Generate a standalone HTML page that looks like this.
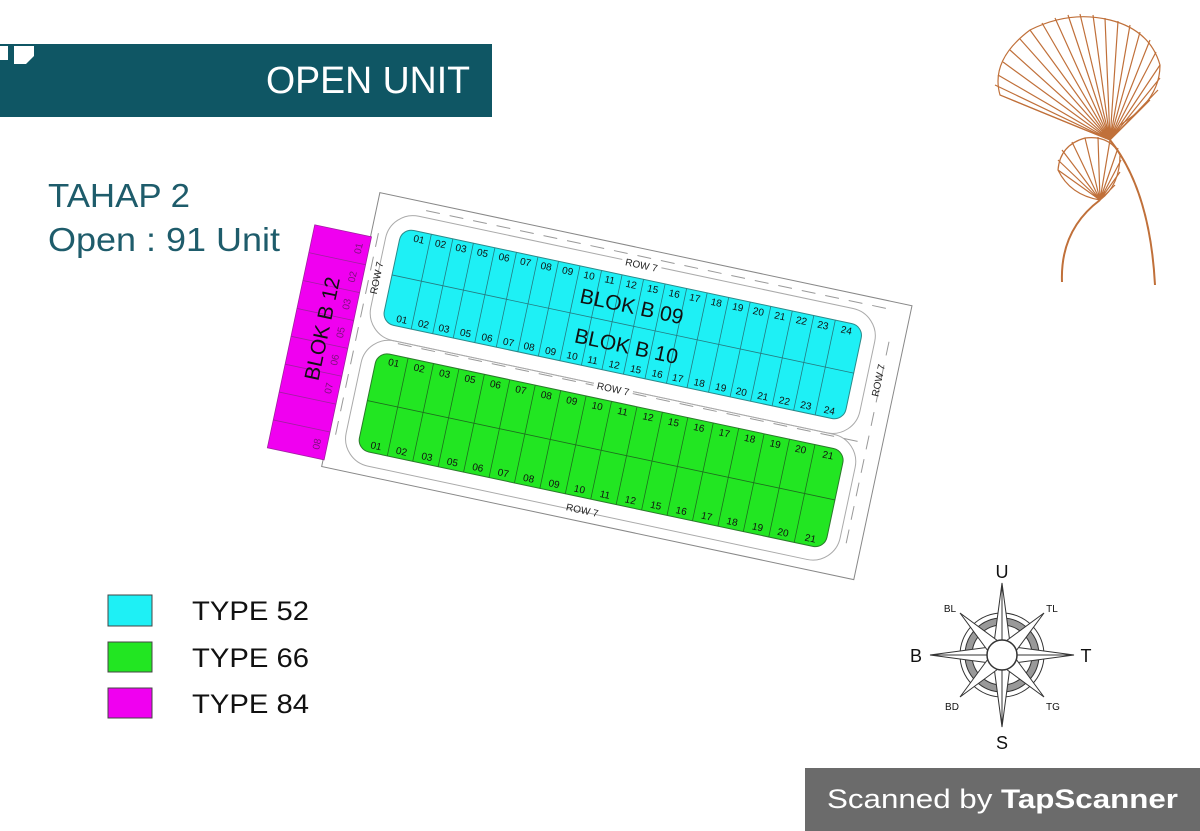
<!DOCTYPE html>
<html><head><meta charset="utf-8"><style>
html,body{margin:0;padding:0;background:#fff}
body{width:1200px;height:831px;overflow:hidden;position:relative;font-family:"Liberation Sans",sans-serif}
</style></head><body>
<svg width="1200" height="831" viewBox="0 0 1200 831" xmlns="http://www.w3.org/2000/svg" style="position:absolute;left:0;top:0" font-family="Liberation Sans, sans-serif">
<!-- header -->
<rect x="0" y="44" width="492" height="73" fill="#0f5664"/>
<path d="M0 46 h8 v14 h-8z M14 46 h20 v10 l-8 8 h-12z" fill="#fff"/>
<text x="266" y="93" font-size="38" fill="#fff" textLength="204" lengthAdjust="spacingAndGlyphs">OPEN UNIT</text>
<text x="48" y="207" font-size="33" fill="#1e5c6b" textLength="142" lengthAdjust="spacingAndGlyphs">TAHAP 2</text>
<text x="48" y="251" font-size="33" fill="#1e5c6b" textLength="232" lengthAdjust="spacingAndGlyphs">Open : 91 Unit</text>

<!-- ginkgo -->
<g stroke="#c0703a" fill="none" stroke-width="1.2">
<path d="M1110 140 Q1060 120 1000 95 Q990 60 1030 30 Q1070 10 1110 20 Q1150 30 1160 65 Q1160 100 1120 125 Z"/>
<path d="M1110 140 L1000 95 M1110 140 L995 85 M1110 140 L998 75 M1110 140 L1003 62 M1110 140 L1010 50 M1110 140 L1020 39 M1110 140 L1030 30 M1110 140 L1042 23 M1110 140 L1055 18 M1110 140 L1068 15 M1110 140 L1080 14 M1110 140 L1093 15 M1110 140 L1105 18 M1110 140 L1118 21 M1110 140 L1130 25 M1110 140 L1140 32 M1110 140 L1150 40 M1110 140 L1156 52 M1110 140 L1160 65 M1110 140 L1160 78 M1110 140 L1158 90 M1110 140 L1150 100 M1110 140 L1140 110"/>
<path d="M1100 200 Q1070 195 1058 170 Q1060 145 1085 138 Q1110 135 1120 155 Q1120 185 1100 200Z"/>
<path d="M1100 200 L1058 170 M1100 200 L1058 160 M1100 200 L1062 150 M1100 200 L1072 142 M1100 200 L1085 138 M1100 200 L1098 137 M1100 200 L1110 140 M1100 200 L1118 148 M1100 200 L1121 160 M1100 200 L1120 172 M1100 200 L1115 185"/>
<path d="M1110 140 Q1150 190 1155 285 M1100 200 Q1060 230 1062 282" stroke-width="2"/>
</g>

<!-- site plan -->
<g transform="translate(402,228) rotate(12)">
<rect x="-29" y="-30" width="544" height="280" fill="#fff" stroke="#888" stroke-width="1"/>
<rect x="-14" y="-15" width="500" height="127" rx="28" fill="none" stroke="#aaa" stroke-width="1"/>
<rect x="-12" y="112" width="505" height="128" rx="28" fill="none" stroke="#aaa" stroke-width="1"/>
<line x1="20" y1="-22" x2="500" y2="-22" stroke="#999" stroke-dasharray="14 10"/>
<line x1="20" y1="114" x2="490" y2="114" stroke="#999" stroke-dasharray="14 10"/>
<line x1="-22" y1="10" x2="-22" y2="220" stroke="#999" stroke-dasharray="14 10"/>
<line x1="500" y1="10" x2="500" y2="220" stroke="#999" stroke-dasharray="14 10"/>
<g font-size="10" fill="#222" text-anchor="middle">
<rect x="222" y="-20" width="40" height="12" fill="#fff"/><text x="242" y="-10">ROW 7</text>
<rect x="220" y="107" width="40" height="12" fill="#fff"/><text x="240" y="117">ROW 7</text>
<text x="235" y="242">ROW 7</text>
<text transform="translate(-11,54) rotate(-90)">ROW 7</text>
<text transform="translate(501,50) rotate(-90)">ROW 7</text>
</g>

<!-- blue -->
<rect x="0" y="0" width="472" height="97" rx="12" fill="#1ef0f5" stroke="#2a8a8a"/>
<g stroke="#257a80" stroke-width="0.8">
<line x1="0" y1="48" x2="472" y2="48"/>
<path d="M30 0V97M52 0V97M73 0V97M95 0V97M117 0V97M139 0V97M160 0V97M182 0V97M204 0V97M225 0V97M247 0V97M269 0V97M291 0V97M312 0V97M334 0V97M356 0V97M377 0V97M399 0V97M421 0V97M443 0V97"/>
</g>
<g font-size="10" fill="#111" text-anchor="middle">
<text x="19" y="11">01</text><text x="41" y="11">02</text><text x="62" y="11">03</text><text x="84" y="11">05</text><text x="106" y="11">06</text><text x="128" y="11">07</text><text x="149" y="11">08</text><text x="171" y="11">09</text><text x="193" y="11">10</text><text x="214" y="11">11</text><text x="236" y="11">12</text><text x="258" y="11">15</text><text x="280" y="11">16</text><text x="301" y="11">17</text><text x="323" y="11">18</text><text x="345" y="11">19</text><text x="366" y="11">20</text><text x="388" y="11">21</text><text x="410" y="11">22</text><text x="432" y="11">23</text><text x="456" y="11">24</text>
<text x="19" y="93">01</text><text x="41" y="93">02</text><text x="62" y="93">03</text><text x="84" y="93">05</text><text x="106" y="93">06</text><text x="128" y="93">07</text><text x="149" y="93">08</text><text x="171" y="93">09</text><text x="193" y="93">10</text><text x="214" y="93">11</text><text x="236" y="93">12</text><text x="258" y="93">15</text><text x="280" y="93">16</text><text x="301" y="93">17</text><text x="323" y="93">18</text><text x="345" y="93">19</text><text x="366" y="93">20</text><text x="388" y="93">21</text><text x="410" y="93">22</text><text x="432" y="93">23</text><text x="456" y="93">24</text>
</g>
<g font-size="21" fill="#111" text-anchor="middle">
<text x="241" y="36">BLOK B 09</text><text x="244" y="76">BLOK B 10</text>
<text x="244" y="168">BLOK B 11</text><text x="241" y="204">BLOK B 15</text>
</g>

<!-- green -->
<rect x="2" y="126" width="478" height="100" rx="12" fill="#22e622" stroke="#2a7a2a"/>
<g stroke="#1e6e1e" stroke-width="0.8">
<line x1="2" y1="176" x2="480" y2="176"/>
<path d="M33 126V226M59 126V226M85 126V226M111 126V226M137 126V226M163 126V226M189 126V226M215 126V226M241 126V226M267 126V226M293 126V226M319 126V226M345 126V226M371 126V226M397 126V226M423 126V226M449 126V226"/>
</g>
<g font-size="10" fill="#111" text-anchor="middle">
<text x="20" y="137">01</text><text x="46" y="137">02</text><text x="72" y="137">03</text><text x="98" y="137">05</text><text x="124" y="137">06</text><text x="150" y="137">07</text><text x="176" y="137">08</text><text x="202" y="137">09</text><text x="228" y="137">10</text><text x="254" y="137">11</text><text x="280" y="137">12</text><text x="306" y="137">15</text><text x="332" y="137">16</text><text x="358" y="137">17</text><text x="384" y="137">18</text><text x="410" y="137">19</text><text x="436" y="137">20</text><text x="464" y="137">21</text>
<text x="20" y="222">01</text><text x="46" y="222">02</text><text x="72" y="222">03</text><text x="98" y="222">05</text><text x="124" y="222">06</text><text x="150" y="222">07</text><text x="176" y="222">08</text><text x="202" y="222">09</text><text x="228" y="222">10</text><text x="254" y="222">11</text><text x="280" y="222">12</text><text x="306" y="222">15</text><text x="332" y="222">16</text><text x="358" y="222">17</text><text x="384" y="222">18</text><text x="410" y="222">19</text><text x="436" y="222">20</text><text x="464" y="222">21</text>
</g>

<!-- magenta -->
<rect x="-86" y="15" width="58" height="228" fill="#f000f0" stroke="#a020a0" stroke-width="0.8"/>
<g stroke="#a020a0" stroke-width="0.8">
<path d="M-86 43.5h58M-86 72h58M-86 100.5h58M-86 129h58M-86 157.5h58M-86 186h58M-86 214.5h58"/>
</g>
<g font-size="10" fill="#7a107a" text-anchor="middle">
<text transform="translate(-35,29) rotate(-90)">01</text><text transform="translate(-35,58) rotate(-90)">02</text><text transform="translate(-35,86) rotate(-90)">03</text><text transform="translate(-35,115) rotate(-90)">05</text><text transform="translate(-35,143) rotate(-90)">06</text><text transform="translate(-35,172) rotate(-90)">07</text><text transform="translate(-35,229) rotate(-90)">08</text>
</g>
<text transform="translate(-50,115) rotate(-90)" font-size="21" fill="#111" text-anchor="middle">BLOK B 12</text>
</g>

<!-- legend -->
<rect x="108" y="595" width="44" height="31" fill="#1ef0f5" stroke="#444"/>
<rect x="108" y="642" width="44" height="30" fill="#22e622" stroke="#444"/>
<rect x="108" y="688" width="44" height="30" fill="#f000f0" stroke="#444"/>
<g font-size="27" fill="#111">
<text x="192" y="620" textLength="117" lengthAdjust="spacingAndGlyphs">TYPE 52</text><text x="192" y="667" textLength="117" lengthAdjust="spacingAndGlyphs">TYPE 66</text><text x="192" y="713" textLength="117" lengthAdjust="spacingAndGlyphs">TYPE 84</text>
</g>

<!-- compass -->
<g transform="translate(1002,655)" stroke="#333" stroke-width="1" fill="#fff">
<circle r="42" fill="#fff"/><circle r="37" fill="#999"/><circle r="30" fill="#fff"/>
<g>
<polygon points="0,-72 8,-12 0,0 -8,-12"/><polygon points="0,72 8,12 0,0 -8,12"/>
<polygon points="-72,0 -12,8 0,0 -12,-8"/><polygon points="72,0 12,8 0,0 12,-8"/>
<polygon points="-42,-42 -4,-14 0,0 -14,-4"/><polygon points="42,-42 4,-14 0,0 14,-4"/>
<polygon points="-42,42 -4,14 0,0 -14,4"/><polygon points="42,42 4,14 0,0 14,4"/>
<line x1="0" y1="-72" x2="0" y2="72"/><line x1="-72" y1="0" x2="72" y2="0"/>
</g>
<circle r="15" fill="#fff" stroke-width="1.5"/>
</g>
<g fill="#111" text-anchor="middle">
<text x="1002" y="578" font-size="18">U</text><text x="1002" y="749" font-size="18">S</text>
<text x="916" y="662" font-size="18">B</text><text x="1086" y="662" font-size="18">T</text>
<text x="950" y="612" font-size="10">BL</text><text x="1052" y="612" font-size="10">TL</text>
<text x="952" y="710" font-size="10">BD</text><text x="1053" y="710" font-size="10">TG</text>
</g>

<!-- scanned -->
<rect x="805" y="768" width="395" height="63" fill="#6b6b6b"/>
<text x="827" y="808" font-size="27" fill="#fff" textLength="351" lengthAdjust="spacingAndGlyphs">Scanned by <tspan font-weight="bold">TapScanner</tspan></text>
</svg>
</body></html>
